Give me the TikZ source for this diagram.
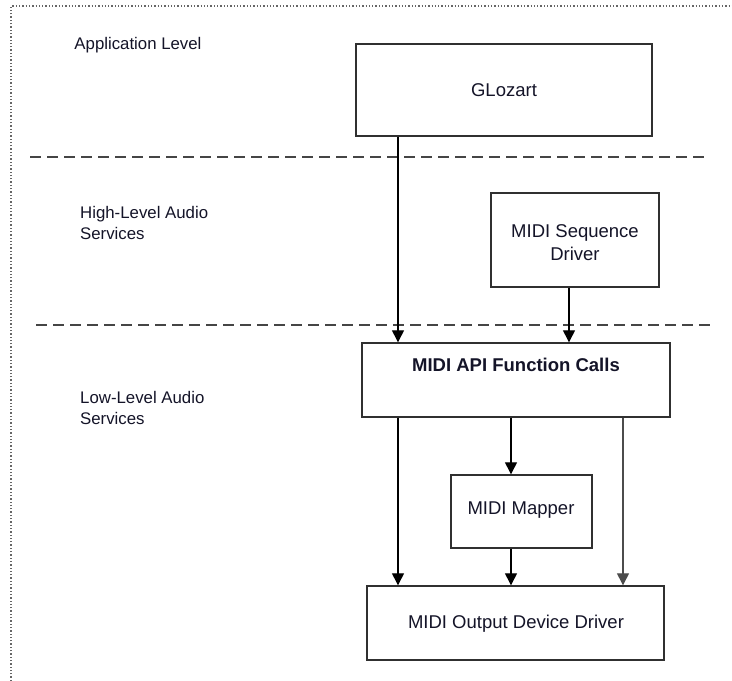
\documentclass[tikz,border=0pt]{standalone}
\usepackage{fontspec}
\setmainfont{Liberation Sans}
\usetikzlibrary{arrows.meta}
\definecolor{ln}{HTML}{303030}
\definecolor{tx}{HTML}{141428}
\tikzset{
  box/.style={draw=ln, line width=1.4pt, fill=white, inner sep=0pt},
  lbl/.style={text=tx, font=\fontsize{18.5}{23}\selectfont, inner sep=0pt},
  lvl/.style={text=tx, font=\fontsize{16.8}{21}\selectfont, inner sep=0pt, align=left, anchor=north west},
  arr/.style={draw=black, line width=1.3pt, -{Triangle[length=12pt,width=12pt]}},
  sep/.style={draw=ln!90, line width=1.6pt, dash pattern=on 11pt off 6pt},
  frame/.style={draw=gray!80!black, line width=1.3pt, dotted}
}
\begin{document}
\begin{tikzpicture}[x=1pt,y=-1pt]
\useasboundingbox (0,0) rectangle (732,681);
\fill[white] (0,0) rectangle (732,681);
\draw[frame] (11,681) -- (11,6) -- (732,6);
% level labels
\node[lvl, anchor=center] (l1) at (138,45) {Application Level};
\node[lvl] (l2) at (80,206) {High-Level Audio\\Services};
\node[lvl] (l3) at (80,391) {Low-Level Audio\\Services};
% separators
\coordinate (s1a) at (30,157); \coordinate (s1b) at (708,157);
\coordinate (s2a) at (36,325); \coordinate (s2b) at (712,325);
\draw[sep] (s1a) -- (s1b);
\draw[sep] (s2a) -- (s2b);
% boxes
\node[box, minimum width=296pt, minimum height=92pt] (gl) at (504,90) {};
\node[lbl] (glt) at (504,90) {GLozart};
\node[box, minimum width=168pt, minimum height=94pt] (seq) at (575,240) {};
\node[lbl, align=center] (seqt) at (575,243) {MIDI Sequence\\Driver};
\node[box, minimum width=308pt, minimum height=74pt] (api) at (516,380) {};
\node[lbl, font=\fontsize{18.5}{23}\selectfont\bfseries] (apit) at (516,365) {MIDI API Function Calls};
\node[box, minimum width=141pt, minimum height=73pt] (map) at (521.5,511.5) {};
\node[lbl] (mapt) at (521,510) {MIDI Mapper};
\node[box, minimum width=297pt, minimum height=74pt] (out) at (515.5,623) {};
\node[lbl] (outt) at (516,624) {MIDI Output Device Driver};
% columns
\coordinate (c1) at (398,0);
\coordinate (c2) at (569,0);
\coordinate (c3) at (511,0);
\coordinate (c4) at (623,0);
% arrows
\draw[arr] (gl.south -| c1) -- (api.north -| c1);
\draw[arr] (seq.south -| c2) -- (api.north -| c2);
\draw[arr] (api.south -| c1) -- (out.north -| c1);
\draw[arr] (api.south -| c3) -- (map.north -| c3);
\draw[arr] (map.south -| c3) -- (out.north -| c3);
\draw[arr, draw=gray!60!black] (api.south -| c4) -- (out.north -| c4);
\end{tikzpicture}
\end{document}
